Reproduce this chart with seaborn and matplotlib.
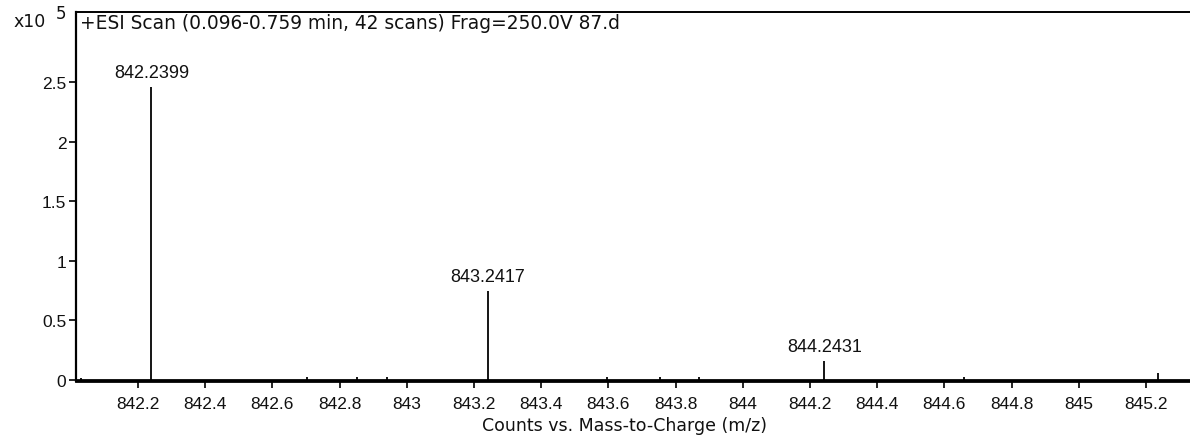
import numpy as np
import pandas as pd
import matplotlib
matplotlib.use("Agg")
import matplotlib.pyplot as plt
import seaborn as sns

# Centroided spectrum: m/z and counts (x10^5)
mz = [842.030, 842.2399, 842.703, 842.852, 842.940, 843.2417, 843.596,
      843.753, 843.870, 844.2431, 844.658, 845.236]
counts = [0.010, 2.45, 0.012, 0.012, 0.012, 0.74, 0.015,
          0.012, 0.012, 0.149, 0.012, 0.045]
# Peaks that carry a text label
labeled_mz = [842.2399, 843.2417, 844.2431]
labeled_counts = [2.45, 0.74, 0.149]

xticks = [842.2, 842.4, 842.6, 842.8, 843.0, 843.2, 843.4, 843.6, 843.8,
          844.0, 844.2, 844.4, 844.6, 844.8, 845.0, 845.2]
yticks = [0, 0.5, 1, 1.5, 2, 2.5]

title = "+ESI Scan (0.096-0.759 min, 42 scans) Frag=250.0V 87.d"
xlabel = "Counts vs. Mass-to-Charge (m/z)"

sns.set_theme(style="white")
plt.rcParams["font.family"] = ["Liberation Sans", "DejaVu Sans"]
plt.rcParams["font.size"] = 12.5
wide_font = ["DejaVu Sans"]
ink = "#111111"

# Stick spectrum as one polyline: up and down at each centroid
xs, ys, grp = [], [], []
for i, (m, c) in enumerate(zip(mz, counts)):
    xs += [m, m, m]
    ys += [0.0, c, 0.0]
    grp += [i, i, i]
stick = pd.DataFrame({"mz": xs, "counts": ys, "peak": grp})

fig = plt.figure(figsize=(11.9, 4.39), dpi=100)
ax = fig.add_axes([76 / 1190, 57 / 439, (1195 - 76) / 1190, (382 - 13) / 439])

sns.lineplot(data=stick, x="mz", y="counts", units="peak", estimator=None,
             sort=False, color="#1a1a1a", linewidth=1.3, ax=ax, legend=False)
ax.axhline(0, color="black", linewidth=2.0, zorder=3)

for m, c in zip(labeled_mz, labeled_counts):
    ax.annotate(f"{m:.4f}", xy=(m, c), xytext=(0, 5), textcoords="offset points",
                ha="center", va="bottom", fontsize=13, color=ink)

ax.set_xlim(842.0155, 845.346)
ax.set_ylim(-0.01, 3.09)
ax.set_xticks(xticks)
ax.set_xticklabels([f"{t:g}" for t in xticks])
ax.set_yticks(yticks)
ax.set_yticklabels([f"{t:g}" for t in yticks])

ax.tick_params(axis="both", direction="out", length=5, width=1.2, color="black",
               labelsize=12.5, labelcolor=ink, bottom=True, left=True)
ax.tick_params(axis="x", pad=6)
ax.tick_params(axis="y", pad=2)

ax.set_xlabel(xlabel, fontsize=12.5, family=wide_font, color=ink, labelpad=1)
ax.xaxis.set_label_coords((625 - 76) / (1195 - 76), -0.095)
ax.set_ylabel("")

for side in ["left", "bottom", "top"]:
    ax.spines[side].set_visible(True)
    ax.spines[side].set_color("black")
ax.spines["left"].set_linewidth(1.6)
ax.spines["bottom"].set_linewidth(2.0)
ax.spines["top"].set_linewidth(1.4)
ax.spines["right"].set_visible(False)

ax.text(0.004, 0.997, title, transform=ax.transAxes, ha="left", va="top",
        fontsize=13.4, family=wide_font, color=ink)

fig.text(14 / 1190, 1 - 22 / 439, "x10", ha="left", va="center", fontsize=12.5,
         family=wide_font, color=ink)
fig.text(56 / 1190, 1 - 14 / 439, "5", ha="left", va="center", fontsize=12,
         family=wide_font, color=ink)

fig.savefig("out.png", dpi=100)
